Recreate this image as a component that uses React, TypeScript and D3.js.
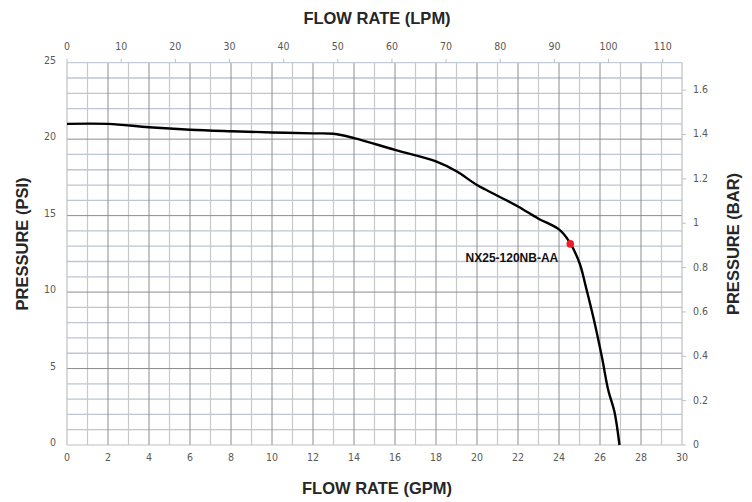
import React from "react";
import * as d3 from "d3";

// ---- data ----
const flowGpm = [0, 2, 4, 6, 8, 10, 12, 13, 14, 16, 18, 19, 20, 21, 22, 23, 24, 24.5, 25, 25.3, 25.7, 26.1, 26.4, 26.7, 26.95];
const pressurePsi = [21.0, 21.0, 20.78, 20.62, 20.52, 20.44, 20.38, 20.35, 20.07, 19.3, 18.55, 17.9, 17.0, 16.3, 15.6, 14.8, 14.1, 13.3, 11.9, 10.4, 8.2, 5.7, 3.6, 2.2, 0];
const markerGpm = [24.55];
const markerPsi = [13.15];
const markerLabel = ["NX25-120NB-AA"];
const gpmTicks = [0, 2, 4, 6, 8, 10, 12, 14, 16, 18, 20, 22, 24, 26, 28, 30];
const lpmTicks = [0, 10, 20, 30, 40, 50, 60, 70, 80, 90, 100, 110];
const psiTicks = [0, 5, 10, 15, 20, 25];
const barTicks = [0, 0.2, 0.4, 0.6, 0.8, 1, 1.2, 1.4, 1.6];
const GPM_TO_LPM = 3.78541;
const PSI_PER_BAR = 14.5038;

const W = 752, H = 502;
const L = 67, R = 682, T = 62.7, B = 445;

export default function App() {
  const x = d3.scaleLinear().domain([0, 30]).range([L, R]);
  const xl = d3.scaleLinear().domain([0, 30 * GPM_TO_LPM]).range([L, R]);
  const y = d3.scaleLinear().domain([0, 25]).range([B, T]);
  const yb = d3.scaleLinear().domain([0, 25 / PSI_PER_BAR]).range([B, T]);

  const pts = flowGpm.map((g, i) => [g, pressurePsi[i]] as [number, number]);
  const line = d3
    .line<[number, number]>()
    .x((d) => x(d[0]))
    .y((d) => y(d[1]))
    .curve(d3.curveCatmullRom.alpha(0.5));

  const tickFont = "'Liberation Sans Narrow', 'DejaVu Sans Condensed', 'Liberation Sans', sans-serif";
  const titleFont = "'Liberation Sans', Arial, sans-serif";
  const tickColor = "#595959";

  const vLines = d3.range(0, 31, 1);
  const hLines = d3.range(0, 26, 1);

  return (
    <svg width={W} height={H} style={{ position: "absolute", left: 0, top: 0, background: "#fff" }}>
      <rect x={0} y={0} width={W} height={H} fill="#fff" />
      {/* minor horizontal grid */}
      {hLines.filter((v) => v % 5 !== 0).map((v) => (
        <line key={"h" + v} x1={L} x2={R} y1={y(v)} y2={y(v)} stroke="#bcc6d4" strokeWidth={1.3} />
      ))}
      {/* vertical grid */}
      {vLines.filter((v) => v % 2 !== 0).map((v) => (
        <line key={"vo" + v} x1={x(v)} x2={x(v)} y1={T} y2={B} stroke="#c8c8c8" strokeWidth={1.2} />
      ))}
      {vLines.filter((v) => v % 2 === 0 && v !== 0 && v !== 30).map((v) => (
        <line key={"ve" + v} x1={x(v)} x2={x(v)} y1={T} y2={B} stroke="#8c8c8c" strokeWidth={1} />
      ))}
      {/* major horizontal grid */}
      {psiTicks.filter((v) => v !== 0 && v !== 25).map((v) => (
        <line key={"hm" + v} x1={L} x2={R} y1={y(v)} y2={y(v)} stroke="#8c8c8c" strokeWidth={1} />
      ))}
      {/* frame */}
      <line x1={L} x2={R} y1={T} y2={T} stroke="#c3ccd9" strokeWidth={1.2} />
      <line x1={L} x2={L} y1={T} y2={B} stroke="#bfbfbf" strokeWidth={1.2} />
      <line x1={R} x2={R} y1={T} y2={B} stroke="#bfbfbf" strokeWidth={1.2} />
      <line x1={L} x2={R} y1={B} y2={B} stroke="#bfbfbf" strokeWidth={1.2} />

      {/* top LPM ticks */}
      {lpmTicks.map((v) => (
        <g key={"lt" + v}>
          <line x1={xl(v)} x2={xl(v)} y1={T} y2={T - 4} stroke="#bfbfbf" />
          <text x={xl(v)} y={47} textAnchor="middle" dominantBaseline="middle" fontFamily={tickFont} fontSize={10.5} fill={tickColor}>
            {v}
          </text>
        </g>
      ))}
      {/* bottom GPM labels */}
      {gpmTicks.map((v) => (
        <text key={"gt" + v} x={x(v)} y={458} textAnchor="middle" dominantBaseline="middle" fontFamily={tickFont} fontSize={10.5} fill={tickColor}>
          {v}
        </text>
      ))}
      {/* left PSI labels */}
      {psiTicks.map((v) => (
        <text key={"pt" + v} x={56} y={y(v) - 2} textAnchor="end" dominantBaseline="middle" fontFamily={tickFont} fontSize={10.5} fill={tickColor}>
          {v}
        </text>
      ))}
      {/* right BAR ticks */}
      {barTicks.map((v) => (
        <g key={"bt" + v}>
          <line x1={R} x2={R + 4} y1={yb(v)} y2={yb(v)} stroke="#bfbfbf" />
          <text x={693} y={yb(v)} textAnchor="start" dominantBaseline="middle" fontFamily={tickFont} fontSize={10.5} fill={tickColor}>
            {v}
          </text>
        </g>
      ))}

      {/* curve */}
      <path d={line(pts) || ""} fill="none" stroke="#000" strokeWidth={2.4} strokeLinejoin="round" />

      {/* marker */}
      {markerGpm.map((g, i) => (
        <g key={"m" + i}>
          <circle cx={x(g)} cy={y(markerPsi[i])} r={3.8} fill="#ee1c25" />
          <text x={x(g) - 12} y={y(markerPsi[i]) + 18} textAnchor="end" fontFamily={titleFont} fontWeight="bold" fontSize={12} fill="#111">
            {markerLabel[i]}
          </text>
        </g>
      ))}

      {/* titles */}
      <text x={377} y={20} textAnchor="middle" dominantBaseline="middle" fontFamily={titleFont} fontWeight="bold" fontSize={16.5} fill="#262626">
        FLOW RATE (LPM)
      </text>
      <text x={377} y={490} textAnchor="middle" dominantBaseline="middle" fontFamily={titleFont} fontWeight="bold" fontSize={16.5} fill="#262626">
        FLOW RATE (GPM)
      </text>
      <text transform={`translate(24,244) rotate(-90)`} textAnchor="middle" dominantBaseline="middle" fontFamily={titleFont} fontWeight="bold" fontSize={16.5} fill="#262626">
        PRESSURE (PSI)
      </text>
      <text transform={`translate(735,244) rotate(-90)`} textAnchor="middle" dominantBaseline="middle" fontFamily={titleFont} fontWeight="bold" fontSize={16.5} fill="#262626">
        PRESSURE (BAR)
      </text>
    </svg>
  );
}
